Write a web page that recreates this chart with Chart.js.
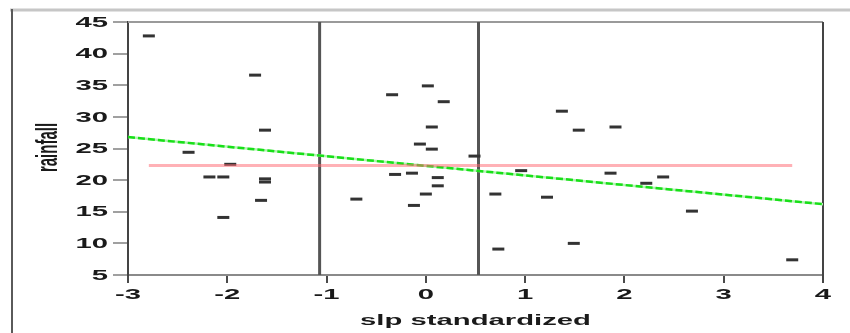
<!DOCTYPE html>
<html>
<head>
<meta charset="utf-8">
<title>rainfall vs slp standardized</title>
<script src="https://cdn.jsdelivr.net/npm/chart.js@4.4.1/dist/chart.umd.min.js"></script>
<style>
    html, body { margin: 0; padding: 0; background: #fff; }
    #wrapper { width: 850px; height: 333px; }
</style>
</head>
<body>
<div id="wrapper"><canvas id="rainChart" width="850" height="333"></canvas></div>
<script>
// Standardized sea level pressure and rainfall, one entry per season
const slpValues = [
    -2.79, -2.39, -2.18, -2.04, -1.97, -2.04, -1.72, -1.62, -1.62, -1.62, -1.66,
    -0.70, -0.34, -0.31, -0.14, -0.12, -0.06, 0.00, 0.02, 0.06, 0.06, 0.12, 0.12,
    0.18, 0.49, 0.70, 0.73, 0.96, 1.22, 1.37, 1.49, 1.54, 1.86, 1.91, 2.22, 2.39,
    2.68, 3.69
];
const rainfallValues = [
    42.8, 24.4, 20.5, 20.5, 22.5, 14.1, 36.6, 27.9, 19.7, 20.2, 16.8,
    17.0, 33.5, 20.9, 21.1, 16.0, 25.7, 17.8, 34.9, 28.4, 24.9, 20.4, 19.1,
    32.4, 23.8, 17.8, 9.1, 21.5, 17.3, 30.9, 10.0, 27.9, 21.1, 28.4, 19.5, 20.5,
    15.1, 7.4
];

// Break points on the slp axis
const breakPoints = [-1.07, 0.53];

// Mean rainfall, across the observed slp range
const meanLineX = [-2.79, 3.69];
const meanLineY = [22.3, 22.3];

// Straight line fit, across the whole axis
const fitLineX = [-3, 4];
const fitLineY = [26.8, 16.2];

// Axis ticks
const xTicks = [-3, -2, -1, 0, 1, 2, 3, 4];
const yTicks = [5, 10, 15, 20, 25, 30, 35, 40, 45];

const LABEL_FONT = 'bold 15px "Liberation Sans", Arial, sans-serif';
const LABEL_STRETCH = 1.95;
const TEXT_COLOR = '#1a1a1a';

class RainfallChart {
    constructor(canvasId) {
        this.ctx = document.getElementById(canvasId).getContext('2d');
        this.render();
    }

    toPoints(xs, ys) {
        return xs.map((x, i) => ({ x: x, y: ys[i] }));
    }

    // labels are drawn wide, like the rest of the figure
    drawWideText(ctx, text, x, y, align, baseline, rotate) {
        ctx.save();
        ctx.translate(x, y);
        ctx.scale(LABEL_STRETCH, 1);
        if (rotate) ctx.rotate(-Math.PI / 2);
        ctx.font = LABEL_FONT;
        ctx.fillStyle = TEXT_COLOR;
        ctx.textAlign = align;
        ctx.textBaseline = baseline;
        ctx.fillText(text, 0, 0);
        ctx.restore();
    }

    line(ctx, x1, y1, x2, y2, color, width) {
        ctx.save();
        ctx.strokeStyle = color;
        ctx.lineWidth = width;
        ctx.beginPath();
        ctx.moveTo(x1, y1);
        ctx.lineTo(x2, y2);
        ctx.stroke();
        ctx.restore();
    }

    framePlugin() {
        return {
            id: 'frame',
            beforeDatasetsDraw: (chart) => {
                const ctx = chart.ctx;
                const area = chart.chartArea;
                // outer panel edges
                this.line(ctx, 10, 10, 850, 10, '#c6c6c6', 3);
                this.line(ctx, 12, 9, 12, 333, '#5a5a5a', 2);
                // top and right sides of the plot box
                this.line(ctx, area.left, area.top, area.right, area.top, '#9a9a9a', 2);
                this.line(ctx, area.right, area.top, area.right, area.bottom + 8, '#444', 2);
            }
        };
    }

    labelPlugin() {
        return {
            id: 'wideLabels',
            afterDraw: (chart) => {
                const ctx = chart.ctx;
                const area = chart.chartArea;
                const xScale = chart.scales.x;
                const yScale = chart.scales.y;

                yScale.ticks.forEach(t => {
                    this.drawWideText(ctx, String(t.value), area.left - 20,
                        yScale.getPixelForValue(t.value) + 0.5, 'right', 'middle');
                });
                xScale.ticks.forEach(t => {
                    this.drawWideText(ctx, String(t.value),
                        xScale.getPixelForValue(t.value), area.bottom + 20, 'center', 'middle');
                });

                this.drawWideText(ctx, 'slp standardized', (area.left + area.right) / 2,
                    area.bottom + 50, 'center', 'alphabetic');
                this.drawWideText(ctx, 'rainfall', 49, (area.top + area.bottom) / 2 - 1,
                    'center', 'middle', true);
            }
        };
    }

    render() {
        const datasets = [];

        // observations
        datasets.push({
            data: this.toPoints(slpValues, rainfallValues),
            pointStyle: 'line',
            pointRadius: 6,
            pointBorderWidth: 3,
            borderColor: '#333',
            backgroundColor: '#333',
            showLine: false,
            order: 3
        });

        // vertical break lines
        breakPoints.forEach(bp => {
            datasets.push({
                data: [{ x: bp, y: 5 }, { x: bp, y: 45 }],
                showLine: true,
                borderColor: '#555',
                borderWidth: 3,
                pointRadius: 0,
                order: 4
            });
        });

        // mean rainfall
        datasets.push({
            data: this.toPoints(meanLineX, meanLineY),
            showLine: true,
            borderColor: 'rgba(255, 100, 110, 0.5)',
            borderWidth: 3,
            pointRadius: 0,
            order: 1
        });

        // fit line: pale underlay plus bright dashes
        datasets.push({
            data: this.toPoints(fitLineX, fitLineY),
            showLine: true,
            borderColor: '#b4f2b4',
            borderWidth: 2.5,
            pointRadius: 0,
            order: 2
        });
        datasets.push({
            data: this.toPoints(fitLineX, fitLineY),
            showLine: true,
            borderColor: '#18e018',
            borderWidth: 2.5,
            borderDash: [7, 3],
            pointRadius: 0,
            order: 1
        });

        this.chart = new Chart(this.ctx, {
            type: 'scatter',
            data: { datasets: datasets },
            options: {
                responsive: false,
                animation: false,
                devicePixelRatio: 1,
                layout: { padding: { left: 0, right: 27, top: 22, bottom: 0 } },
                plugins: {
                    legend: { display: false },
                    tooltip: { enabled: false }
                },
                scales: {
                    x: {
                        type: 'linear',
                        min: -3,
                        max: 4,
                        afterBuildTicks: scale => { scale.ticks = xTicks.map(v => ({ value: v })); },
                        afterFit: scale => { scale.height = 58; },
                        ticks: { display: false },
                        grid: {
                            drawOnChartArea: false,
                            drawTicks: true,
                            tickLength: 8,
                            color: '#4a4a4a',
                            lineWidth: 2
                        },
                        border: { display: true, color: '#8a8a8a', width: 2 }
                    },
                    y: {
                        type: 'linear',
                        min: 5,
                        max: 45,
                        afterBuildTicks: scale => { scale.ticks = yTicks.map(v => ({ value: v })); },
                        afterFit: scale => { scale.width = 128; },
                        ticks: { display: false },
                        grid: {
                            drawOnChartArea: false,
                            drawTicks: true,
                            tickLength: 15,
                            color: '#a0a0a0',
                            lineWidth: 2
                        },
                        border: { display: true, color: '#444', width: 2 }
                    }
                }
            },
            plugins: [this.framePlugin(), this.labelPlugin()]
        });
    }
}

document.addEventListener('DOMContentLoaded', () => {
    window.rainfallChart = new RainfallChart('rainChart');
});
</script>
</body>
</html>
